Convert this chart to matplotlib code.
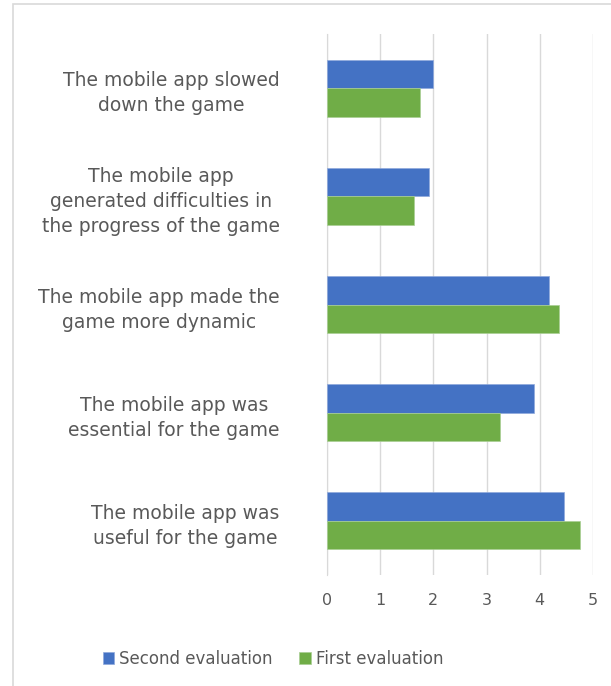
import numpy as np
import matplotlib.pyplot as plt
from matplotlib.patches import Rectangle

categories = ["The mobile app was\nuseful for the game",
              "The mobile app was\nessential for the game",
              "The mobile app made the\ngame more dynamic",
              "The mobile app\ngenerated difficulties in\nthe progress of the game",
              "The mobile app slowed\ndown the game"]
second_eval = [4.45, 3.90, 4.17, 1.91, 2.00]
first_eval = [4.76, 3.26, 4.36, 1.64, 1.75]

blue = '#4472C4'
green = '#70AD47'
txt = '#595959'
plt.rcParams['font.family'] = ['DejaVu Sans']

fig = plt.figure(figsize=(6.11, 6.86), dpi=100)
ax = fig.add_axes([0.535, 0.1618, 0.4355, 0.7886])

y = np.arange(len(categories))
h = 0.264
ax.barh(y + h / 2, second_eval, h, color=blue, edgecolor='#8fa9dc', linewidth=0.5,
        label='Second evaluation', zorder=3)
ax.barh(y - h / 2, first_eval, h, color=green, edgecolor='#a9cf94', linewidth=0.5,
        label='First evaluation', zorder=3)

ax.set_xlim(0, 5)
ax.set_ylim(-0.5, len(categories) - 0.5)
ax.set_xticks(range(6))
ax.set_yticks(y)
ax.set_yticklabels(categories, multialignment='center', linespacing=1.42)
ax.tick_params(axis='both', length=0, colors=txt, labelsize=13.5)
ax.tick_params(axis='y', pad=34)
ax.tick_params(axis='x', pad=13, labelsize=11.5)
ax.grid(axis='x', color='#d9d9d9', linewidth=1, zorder=0)
for s in ['top', 'right', 'bottom']:
    ax.spines[s].set_visible(False)
ax.spines['left'].set_color('#d9d9d9')

handles, labels = ax.get_legend_handles_labels()
leg = fig.legend(handles, labels, loc='center', bbox_to_anchor=(273 / 611, 1 - 659 / 686),
                 ncol=2, frameon=False, fontsize=12, handlelength=0.7, handleheight=0.7,
                 handletextpad=0.3, columnspacing=1.6)
for t in leg.get_texts():
    t.set_color(txt)

fig.patches.append(Rectangle((13 / 611, -0.05), 1.5, 1 - 4 / 686 + 0.05, transform=fig.transFigure,
                             fill=False, edgecolor='#d9d9d9', linewidth=1.2))

fig.savefig('out.png', dpi=100)
